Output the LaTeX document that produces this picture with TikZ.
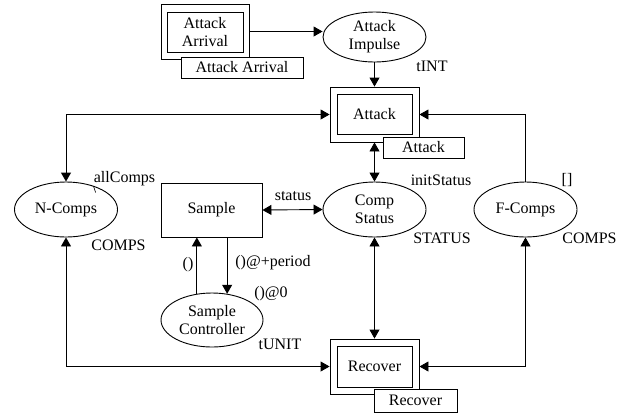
\documentclass[tikz,border=0pt]{standalone}
\usepackage{fontspec}
\setmainfont{Liberation Serif}
\usetikzlibrary{arrows.meta,shapes.geometric}
\begin{document}
\begin{tikzpicture}[x=1pt,y=-1pt,
  every node/.style={font=\fontsize{16}{18}\selectfont},
  place/.style={draw,ellipse,minimum width=103pt,minimum height=55pt,inner sep=0pt,align=center,line width=0.9pt},
  box/.style={draw,rectangle,inner sep=0pt,line width=0.9pt,align=center},
  tagbox/.style={box,fill=white},
  lbl/.style={inner sep=0pt},
  tip/.tip={Triangle[length=9pt,width=10pt]},
  arr/.style={-tip,line width=0.9pt},
  darr/.style={tip-tip,line width=0.9pt}]
\useasboundingbox (0,0) rectangle (628,416);

% Attack Arrival (substitution transition)
\node[box,minimum width=88pt,minimum height=55pt] (aaout) at (205,31.5) {};
\node[box,minimum width=76pt,minimum height=40pt] (aa) at (205,32) {Attack\\Arrival};
\node[tagbox,minimum width=122pt,minimum height=21pt] (aatag) at (242,67.5) {Attack Arrival};

% Attack Impulse
\node[place,minimum height=50pt] (imp) at (374.5,37) {Attack\\Impulse};
\node[lbl] (tint) at (432,66) {tINT};

% Attack
\node[box,minimum width=89pt,minimum height=55pt] (atout) at (374.5,114.5) {};
\node[box,minimum width=75pt,minimum height=40pt] (at) at (374.5,114) {Attack};
\node[tagbox,minimum width=81pt,minimum height=21pt] (attag) at (423.5,147.5) {Attack};

% places
\node[place] (nc) at (66,209.5) {N-Comps};
\node[place] (cs) at (374.5,209.5) {Comp\\Status};
\node[place] (fc) at (525.5,209.5) {F-Comps};
\node[box,minimum width=101pt,minimum height=54pt] (sample) at (211.5,210) {Sample};
\node[place,minimum width=102pt,minimum height=54pt] (sc) at (212,320) {Sample\\Controller};

% Recover
\node[box,minimum width=89pt,minimum height=55pt] (recout) at (374.5,366.5) {};
\node[box,minimum width=75pt,minimum height=41pt] (rec) at (374.5,366.5) {Recover};
\node[tagbox,minimum width=83pt,minimum height=23pt] (rectag) at (415.5,400.5) {Recover};

% labels
\node[lbl] (allc) at (124.5,179) {allComps};
\node[lbl] (ncty) at (118.5,245) {COMPS};
\node[lbl] (stat) at (293,196) {status};
\node[lbl] (init) at (441,180) {initStatus};
\node[lbl] (csty) at (442,238) {STATUS};
\node[lbl] (emp) at (567,180) {[]};
\node[lbl] (fcty) at (589.5,238) {COMPS};
\node[lbl] (unit) at (188,265) {()};
\node[lbl] (per) at (273,263) {()@+period};
\node[lbl] (zero) at (271,294) {()@0};
\node[lbl] (tunit) at (280,344) {tUNIT};

% connectors
\draw[arr] (aaout.east) -- (aaout.east -| imp.west);
\draw[arr] (imp.south) -- (atout.north);
\draw[darr] (nc.north) |- (atout.west);
\draw[arr] (fc.north) |- (atout.east);
\draw[darr] (atout.south) -- (cs.north);
\draw[darr] (sample.east) -- (cs.west);
\draw[darr] (cs.south) -- (recout.north);
\draw[darr] (nc.south) |- (recout.west);
\draw[darr] (fc.south) |- (recout.east);
\draw[arr] (sc.120) -- (sc.120 |- sample.south);
\draw[arr] (sc.60 |- sample.south) -- (sc.60);
\draw[line width=0.6pt] (allc.south west) -- ++(2,6);
\end{tikzpicture}
\end{document}
